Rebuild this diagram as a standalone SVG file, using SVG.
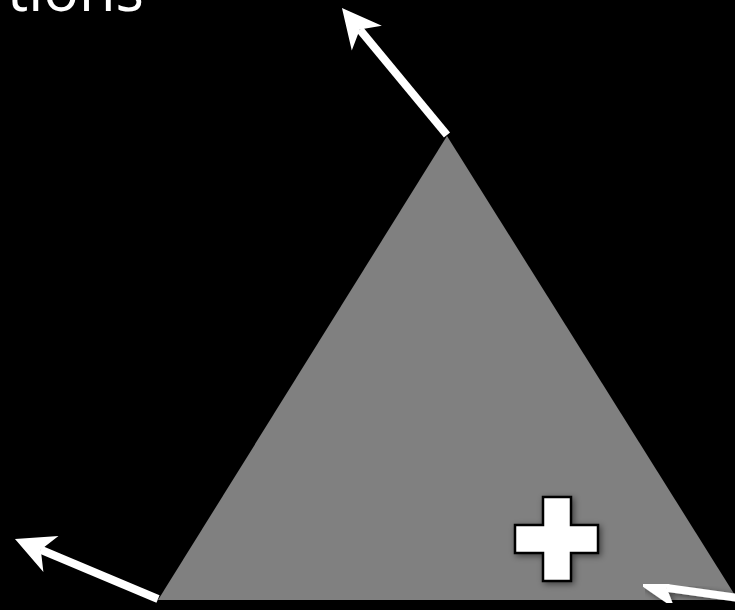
<svg xmlns="http://www.w3.org/2000/svg" width="735" height="610" viewBox="0 0 735 610">
  <defs>
    <style>
      .arrow { stroke: #ffffff; stroke-width: 8; fill: none; marker-end: url(#head); }
      .title { font-family: "Open Sans", "Liberation Sans", sans-serif; font-size: 62px; fill: #ffffff; }
    </style>
    <marker id="head" markerUnits="userSpaceOnUse" viewBox="-40 -21 42 42" markerWidth="42" markerHeight="42" refX="-28" refY="0" orient="auto" overflow="visible">
      <path d="M0,0 L-39,-19.5 L-28,0 L-39,19.5 Z" fill="#ffffff"/>
    </marker>
    <filter id="shadow" x="-30%" y="-30%" width="160%" height="160%">
      <feGaussianBlur in="SourceAlpha" stdDeviation="3"/>
      <feOffset dx="2" dy="2" result="b"/>
      <feComponentTransfer><feFuncA type="linear" slope="0.5"/></feComponentTransfer>
      <feMerge><feMergeNode/><feMergeNode in="SourceGraphic"/></feMerge>
    </filter>
  </defs>
  <rect x="0" y="0" width="735" height="610" fill="#000000"/>
  <text class="title" x="7" y="11" textLength="137" lengthAdjust="spacingAndGlyphs">tions</text>
  <g id="triangle">
    <polygon points="447,136 158,600 738,600" fill="#808080"/>
  </g>
  <g id="plus" filter="url(#shadow)">
    <path d="M543,497 H571 V525 H598 V553 H571 V581 H543 V553 H515 V525 H543 Z" fill="#ffffff" stroke="#000000" stroke-width="2.5"/>
  </g>
  <g id="connectors">
    <line class="arrow" x1="447" y1="135" x2="359.8" y2="29.6"/>
    <line class="arrow" x1="158" y1="599" x2="40.8" y2="549.8"/>
    <line class="arrow" x1="745" y1="599" x2="666.7" y2="587.9" filter="url(#shadow)"/>
  </g>
</svg>
